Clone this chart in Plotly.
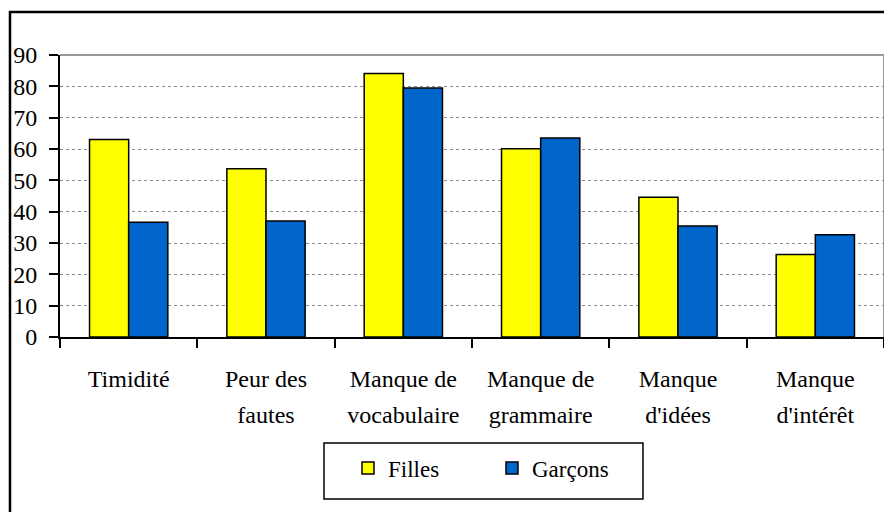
import plotly.graph_objects as go

categories = ["Timidité", "Peur des fautes", "Manque de vocabulaire",
              "Manque de grammaire", "Manque d'idées", "Manque d'intérêt"]
tick_labels = ["Timidité", "Peur des<br>fautes", "Manque de<br>vocabulaire",
               "Manque de<br>grammaire", "Manque<br>d'idées", "Manque<br>d'intérêt"]
filles = [63.0, 53.7, 84.1, 60.1, 44.6, 26.3]
garcons = [36.6, 37.0, 79.5, 63.5, 35.4, 32.6]
y_ticks = [0, 10, 20, 30, 40, 50, 60, 70, 80, 90]

FONT = "Liberation Serif"

def wrap(label):
    return "<br>".join(f"<span style='font-size:24px'>{p}</span>" for p in label.split("<br>"))

fig = go.Figure()
fig.add_trace(go.Bar(name="Filles", x=categories, y=filles,
                     marker=dict(color="#FFFF00", line=dict(color="black", width=1.5))))
fig.add_trace(go.Bar(name="Garçons", x=categories, y=garcons,
                     marker=dict(color="#0066CC", line=dict(color="black", width=1.5))))

fig.update_layout(
    width=884, height=504,
    margin=dict(l=52, r=8, t=47, b=175, autoexpand=False),
    paper_bgcolor="white", plot_bgcolor="white",
    font=dict(family=FONT, size=23, color="black"),
    barmode="group", bargap=0.43, bargroupgap=0,
    showlegend=True,
    legend=dict(orientation="h", x=0.3495, y=-0.4645, xanchor="left", yanchor="middle",
                xref="paper", yref="paper",
                font=dict(family=FONT, size=23, color="black"),
                entrywidth=99, entrywidthmode="pixels",
                bgcolor="rgba(0,0,0,0)", borderwidth=0),
    xaxis=dict(
        type="category", automargin=False,
        tickmode="array", tickvals=categories, ticktext=[wrap(t) for t in tick_labels],
        tickson="boundaries", ticks="outside", ticklen=9, tickcolor="black", tickwidth=1.5,
        showline=True, linecolor="black", linewidth=2,
        tickangle=0, tickfont=dict(family=FONT, size=28, color="black"),
        ticklabelstandoff=14,
        showgrid=False, fixedrange=True,
    ),
    yaxis=dict(
        range=[0, 90], tickmode="array", tickvals=y_ticks, automargin=False,
        ticks="outside", ticklen=9, tickcolor="black", tickwidth=1.5,
        showline=True, linecolor="black", linewidth=2,
        tickfont=dict(family=FONT, size=24, color="black"),
        ticklabelstandoff=7,
        showgrid=True, gridcolor="#8c8c8c", griddash="dot", gridwidth=1,
        zeroline=False, fixedrange=True,
    ),
    shapes=[
        dict(type="line", xref="paper", yref="paper", x0=0, x1=1, y0=1, y1=1,
             line=dict(color="#999999", width=2), layer="below"),
        dict(type="line", xref="paper", yref="paper", x0=1, x1=1, y0=0, y1=1,
             line=dict(color="#999999", width=2), layer="below"),
        dict(type="rect", xref="paper", yref="paper", x0=0.3204, x1=0.7075,
             y0=-0.5745, y1=-0.3759, line=dict(color="black", width=1.5)),
        dict(type="rect", xref="paper", yref="paper", x0=-0.0607, x1=1.2,
             y0=-0.8, y1=1.1525, line=dict(color="black", width=2.5)),
    ],
)

fig.write_html("out.html")
